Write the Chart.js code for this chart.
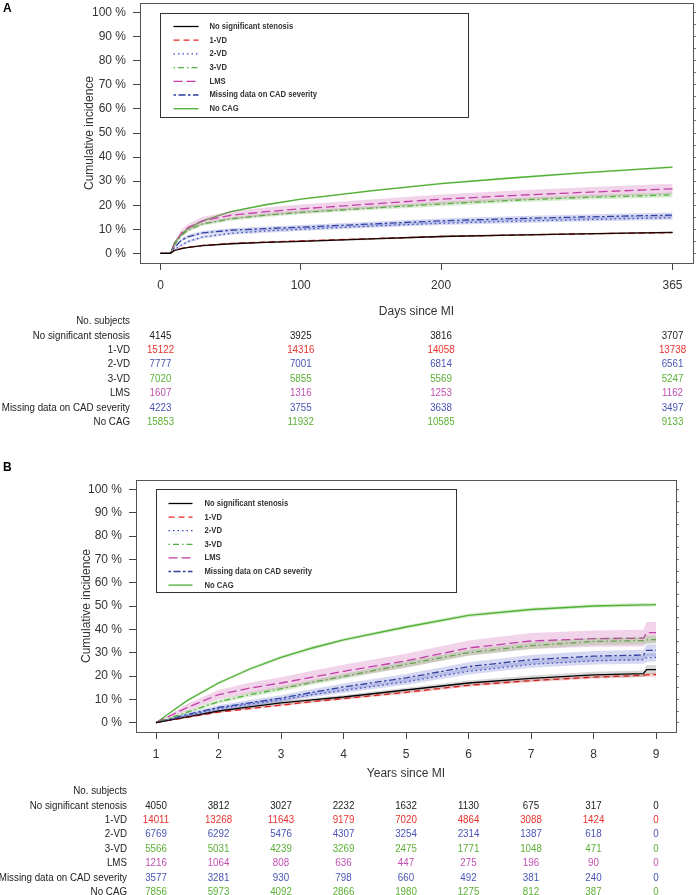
<!DOCTYPE html>
<html>
<head>
<meta charset="utf-8">
<script src="https://cdn.jsdelivr.net/npm/chart.js@4.4.0/dist/chart.umd.min.js"></script>
<style>
  body { margin: 0; background: #fff; }
  canvas { display: block; }
</style>
</head>
<body>
<canvas id="chartA" width="696" height="440"></canvas>
<canvas id="chartB" width="696" height="455"></canvas>
<script>
// --- data ---
const groupNames = ['No significant stenosis', '1-VD', '2-VD', '3-VD', 'LMS',
                    'Missing data on CAD severity', 'No CAG'];

// panel A: days since MI
const daysA = [0, 7, 10, 15, 20, 30, 50, 75, 100, 150, 200, 250, 300, 365];
const noSigA = [0, 0, 1.2, 2.0, 2.5, 3.2, 4.0, 4.6, 5.0, 6.0, 7.0, 7.6, 8.1, 8.7];
const vd1A   = [0, 0, 1.3, 2.1, 2.6, 3.3, 4.1, 4.7, 5.2, 6.1, 7.0, 7.6, 8.1, 8.6];
const vd2A   = [0, 0, 1.5, 3.5, 5.0, 6.8, 8.3, 9.3, 10.0, 11.3, 12.5, 13.3, 14.0, 14.8];
const vd3A   = [0, 0, 3.5, 7.5, 9.8, 12.2, 14.3, 15.9, 17.0, 18.8, 20.5, 22.0, 23.2, 24.3];
const lmsA   = [0, 0, 4.0, 8.5, 10.8, 13.5, 15.8, 17.3, 18.5, 20.5, 22.5, 24.0, 25.3, 26.8];
const missA  = [0, 0, 2.5, 5.5, 7.0, 8.5, 9.6, 10.3, 10.9, 12.2, 13.5, 14.4, 15.1, 15.9];
const noCagA = [0, 0, 4.5, 8.0, 10.5, 13.5, 17.3, 20.2, 22.5, 26.0, 29.0, 31.3, 33.4, 35.8];
// half widths of the confidence bands
const ciNoSigA = [0, 0, 0.2, 0.3, 0.3, 0.3, 0.3, 0.3, 0.4, 0.4, 0.4, 0.4, 0.4, 0.4];
const ciVd1A   = [0, 0, 0.2, 0.2, 0.2, 0.2, 0.2, 0.2, 0.2, 0.2, 0.2, 0.2, 0.2, 0.2];
const ciVd2A   = [0, 0, 0.3, 0.5, 0.6, 0.6, 0.6, 0.7, 0.7, 0.7, 0.7, 0.8, 0.8, 0.8];
const ciVd3A   = [0, 0, 0.4, 0.6, 0.7, 0.7, 0.7, 0.8, 0.8, 0.8, 0.9, 0.9, 0.9, 1.0];
const ciLmsA   = [0, 0, 1.0, 1.4, 1.5, 1.6, 1.7, 1.8, 1.8, 1.9, 2.0, 2.0, 2.1, 2.1];
const ciMissA  = [0, 0, 0.4, 0.6, 0.7, 0.8, 0.8, 0.9, 0.9, 0.9, 1.0, 1.0, 1.0, 1.1];
const ciNoCagA = [0, 0, 0.2, 0.3, 0.3, 0.3, 0.3, 0.3, 0.3, 0.4, 0.4, 0.4, 0.4, 0.4];

const tickDaysA = [0, 100, 200, 365];
const riskA_noSig = [4145, 3925, 3816, 3707];
const riskA_vd1   = [15122, 14316, 14058, 13738];
const riskA_vd2   = [7777, 7001, 6814, 6561];
const riskA_vd3   = [7020, 5855, 5569, 5247];
const riskA_lms   = [1607, 1316, 1253, 1162];
const riskA_miss  = [4223, 3755, 3638, 3497];
const riskA_noCag = [15853, 11932, 10585, 9133];

// panel B: years since MI
const yearsB = [1, 1.5, 2, 2.5, 3, 3.5, 4, 5, 6, 7, 8, 8.8, 8.85, 9];
const noSigB = [0, 2.5, 5.0, 6.8, 8.5, 9.8, 11.0, 14.0, 17.0, 19.0, 20.5, 21.0, 22.7, 22.7];
const vd1B   = [0, 2.3, 4.5, 6.0, 7.5, 9.0, 10.3, 13.0, 16.0, 18.0, 19.5, 20.3, 20.5, 20.6];
const vd2B   = [0, 3.0, 6.0, 8.0, 9.8, 12.0, 13.8, 17.5, 22.0, 25.0, 26.5, 27.0, 27.8, 28.0];
const vd3B   = [0, 4.5, 9.0, 12.0, 14.5, 17.3, 19.8, 25.0, 30.0, 33.0, 34.8, 35.2, 35.5, 35.6];
const lmsB   = [0, 6.5, 12.0, 14.8, 17.0, 19.5, 22.0, 26.5, 32.0, 35.0, 36.0, 36.2, 38.6, 38.6];
const missB  = [0, 3.5, 6.5, 8.5, 10.5, 13.0, 15.3, 19.2, 24.0, 27.0, 28.5, 29.0, 31.0, 31.0];
const noCagB = [0, 9.5, 17.0, 23.0, 28.0, 32.0, 35.5, 41.0, 46.0, 48.5, 50.0, 50.5, 50.5, 50.6];
const ciNoSigB = [0, 0.4, 0.6, 0.7, 0.8, 0.8, 0.9, 1.0, 1.1, 1.2, 1.3, 1.4, 2.0, 2.0];
const ciVd1B   = [0, 0.3, 0.4, 0.4, 0.5, 0.5, 0.5, 0.6, 0.6, 0.7, 0.7, 0.7, 0.8, 0.8];
const ciVd2B   = [0, 0.6, 0.8, 0.9, 1.0, 1.0, 1.1, 1.2, 1.4, 1.5, 1.6, 1.7, 1.8, 1.8];
const ciVd3B   = [0, 0.6, 0.8, 0.9, 1.0, 1.0, 1.1, 1.2, 1.3, 1.4, 1.5, 1.6, 1.7, 1.7];
const ciLmsB   = [0, 1.5, 2.0, 2.3, 2.5, 2.7, 2.8, 3.0, 3.2, 3.4, 3.5, 3.6, 4.5, 4.5];
const ciMissB  = [0, 0.7, 1.0, 1.2, 1.3, 1.4, 1.5, 1.7, 1.9, 2.0, 2.2, 2.3, 2.6, 2.6];
const ciNoCagB = [0, 0.5, 0.6, 0.6, 0.7, 0.7, 0.7, 0.7, 0.8, 0.8, 0.8, 0.8, 0.8, 0.8];

const tickYearsB = [1, 2, 3, 4, 5, 6, 7, 8, 9];
const riskB_noSig = [4050, 3812, 3027, 2232, 1632, 1130, 675, 317, 0];
const riskB_vd1   = [14011, 13268, 11643, 9179, 7020, 4864, 3088, 1424, 0];
const riskB_vd2   = [6769, 6292, 5476, 4307, 3254, 2314, 1387, 618, 0];
const riskB_vd3   = [5566, 5031, 4239, 3269, 2475, 1771, 1048, 471, 0];
const riskB_lms   = [1216, 1064, 808, 636, 447, 275, 196, 90, 0];
const riskB_miss  = [3577, 3281, 930, 798, 660, 492, 381, 240, 0];
const riskB_noCag = [7856, 5973, 4092, 2866, 1980, 1275, 812, 387, 0];

const yTicks = [0, 10, 20, 30, 40, 50, 60, 70, 80, 90, 100];
const rightTicks = [0, 5, 10, 15, 20, 25, 30, 35, 40, 45, 50, 55, 60, 65, 70, 75, 80, 85, 90, 95, 100];

// --- styles per group ---
const styles = [
  { color: '#000000', band: 'rgba(0,0,0,0.15)',      dash: [],              text: '#222222' },
  { color: '#e8231f', band: 'rgba(232,40,35,0.22)',  dash: [6, 4],          text: '#e8322e' },
  { color: '#3b4cc0', band: 'rgba(70,80,190,0.22)',  dash: [1.5, 3],        text: '#4a54b4' },
  { color: '#4db33d', band: 'rgba(90,180,60,0.25)',  dash: [1.5, 3, 6, 3],  text: '#5cb035' },
  { color: '#c13ba6', band: 'rgba(200,80,170,0.25)', dash: [9, 4],          text: '#c150b0' },
  { color: '#2b3d99', band: 'rgba(70,80,190,0.22)',  dash: [2.5, 2.5, 7, 2.5], text: '#4a54b4' },
  { color: '#4caf32', band: 'rgba(90,180,60,0.25)',  dash: [],              text: '#5cb035' }
];

const FONT = '"Liberation Sans", Arial, sans-serif';
Chart.defaults.font.family = FONT;
Chart.defaults.color = '#333';

function buildDatasets(xs, seriesList, ciList) {
  const bands = [];
  const lines = [];
  seriesList.forEach((vals, k) => {
    const st = styles[k];
    const ci = ciList[k];
    bands.push({
      data: xs.map((x, i) => ({ x: x, y: Math.max(0, vals[i] - ci[i]) })),
      borderColor: 'rgba(0,0,0,0)', borderWidth: 0, pointRadius: 0, fill: false
    });
    bands.push({
      data: xs.map((x, i) => ({ x: x, y: vals[i] + ci[i] })),
      borderColor: 'rgba(0,0,0,0)', borderWidth: 0, pointRadius: 0,
      fill: '-1', backgroundColor: st.band
    });
    lines.push({
      label: groupNames[k],
      data: xs.map((x, i) => ({ x: x, y: vals[i] })),
      borderColor: st.color, borderDash: st.dash, borderWidth: 1.3,
      pointRadius: 0, fill: false, tension: 0
    });
  });
  return bands.concat(lines);
}

// narrow text: the original uses a condensed face, squeeze Liberation Sans a bit
function narrowText(ctx, text, x, y, align, sx) {
  ctx.save();
  ctx.translate(x, y);
  ctx.scale(sx, 1);
  ctx.textAlign = align;
  ctx.fillText(text, 0, 0);
  ctx.restore();
}

// box, legend, panel letter, x title and the numbers-at-risk table
function makeDecor(cfg) {
  return {
    id: 'decor',
    afterDraw(chart) {
      const ctx = chart.ctx;
      const a = chart.chartArea;
      const xs = chart.scales.x;
      ctx.save();

      ctx.strokeStyle = '#555';
      ctx.lineWidth = 1;
      ctx.setLineDash([]);
      ctx.strokeRect(Math.round(a.left) + 0.5, Math.round(a.top) + 0.5,
                     Math.round(a.right - a.left), Math.round(a.bottom - a.top));

      // legend
      const lg = cfg.legend;
      const lx = Math.round(a.left + lg.dx) + 0.5;
      const ly = Math.round(a.top + lg.dy) + 0.5;
      ctx.fillStyle = '#fff';
      ctx.fillRect(lx, ly, lg.w, lg.h);
      ctx.strokeStyle = '#333';
      ctx.strokeRect(lx, ly, lg.w, lg.h);
      ctx.font = 'bold 9px ' + FONT;
      ctx.textBaseline = 'middle';
      groupNames.forEach((name, k) => {
        const y = ly + lg.first + k * lg.gap;
        ctx.strokeStyle = styles[k].color;
        ctx.lineWidth = 1.3;
        ctx.setLineDash(styles[k].dash);
        ctx.beginPath();
        ctx.moveTo(lx + lg.sx0, y);
        ctx.lineTo(lx + lg.sx1, y);
        ctx.stroke();
        ctx.fillStyle = '#333';
        narrowText(ctx, name, lx + lg.tx, y, 'left', 0.85);
      });
      ctx.setLineDash([]);

      // panel letter
      ctx.font = 'bold 12px ' + FONT;
      ctx.fillStyle = '#000';
      ctx.textAlign = 'left';
      ctx.fillText(cfg.letter, 3, cfg.letterY);

      // x axis title
      ctx.font = '12px ' + FONT;
      ctx.fillStyle = '#333';
      ctx.textAlign = 'center';
      ctx.fillText(cfg.xTitle, (a.left + a.right) / 2, cfg.xTitleY);

      // numbers at risk
      ctx.font = '11.5px ' + FONT;
      ctx.fillStyle = '#222';
      narrowText(ctx, 'No. subjects', cfg.labelRight, cfg.tableTop, 'right', 0.85);
      groupNames.forEach((name, k) => {
        const y = cfg.tableTop + (k + 1) * cfg.rowGap;
        ctx.fillStyle = '#222';
        narrowText(ctx, name, cfg.labelRight, y, 'right', 0.85);
        ctx.fillStyle = styles[k].text;
        cfg.risk[k].forEach((n, j) => {
          narrowText(ctx, String(n), xs.getPixelForValue(cfg.ticks[j]), y, 'center', 0.85);
        });
      });
      ctx.restore();
    }
  };
}

function fixed(w, h) {
  return function (s) {
    if (w !== null) s.width = w;
    if (h !== null) s.height = h;
    s.paddingTop = 0; s.paddingBottom = 0; s.paddingLeft = 0; s.paddingRight = 0;
  };
}

function makeChart(id, p) {
  return new Chart(document.getElementById(id), {
    type: 'line',
    data: { datasets: buildDatasets(p.xs, p.series, p.ci) },
    options: {
      responsive: false,
      animation: false,
      events: [],
      layout: { padding: p.padding },
      plugins: { legend: { display: false }, tooltip: { enabled: false } },
      scales: {
        x: {
          type: 'linear', min: p.xMin, max: p.xMax,
          afterBuildTicks: s => { s.ticks = p.ticks.map(v => ({ value: v })); },
          afterFit: fixed(null, p.xHeight),
          border: { display: false },
          grid: { drawOnChartArea: false, drawTicks: true, tickLength: 7, color: '#444' },
          ticks: { font: { size: 12 }, color: '#333', padding: 8, maxRotation: 0, autoSkip: false }
        },
        y: {
          type: 'linear', position: 'left', min: -4, max: 104,
          afterBuildTicks: s => { s.ticks = yTicks.map(v => ({ value: v })); },
          afterFit: fixed(p.yWidth, null),
          border: { display: false },
          grid: { drawOnChartArea: false, drawTicks: true, tickLength: 7, color: '#444' },
          ticks: { font: { size: 12 }, color: '#333', padding: 7, callback: v => v + ' %' },
          title: { display: true, text: 'Cumulative incidence', font: { size: 12 }, color: '#333', padding: 0 }
        },
        y2: {
          type: 'linear', position: 'right', min: -4, max: 104,
          afterBuildTicks: s => { s.ticks = rightTicks.map(v => ({ value: v })); },
          afterFit: fixed(3, null),
          border: { display: false },
          grid: { drawOnChartArea: false, drawTicks: true, tickLength: 3, color: '#777' },
          ticks: { display: false }
        }
      }
    },
    plugins: [makeDecor(p.decor)]
  });
}

makeChart('chartA', {
  xs: daysA,
  series: [noSigA, vd1A, vd2A, vd3A, lmsA, missA, noCagA],
  ci: [ciNoSigA, ciVd1A, ciVd2A, ciVd3A, ciLmsA, ciMissA, ciNoCagA],
  ticks: tickDaysA, xMin: -14.6, xMax: 379.6,
  padding: { left: 82, top: 3, right: 0, bottom: 0 },
  xHeight: 177, yWidth: 58,
  decor: {
    letter: 'A', letterY: 9, xTitle: 'Days since MI', xTitleY: 312,
    legend: { dx: 20, dy: 10, w: 308, h: 104, first: 13, gap: 13.7, sx0: 13, sx1: 38, tx: 49 },
    tableTop: 321, rowGap: 14.4, labelRight: 130, ticks: tickDaysA,
    risk: [riskA_noSig, riskA_vd1, riskA_vd2, riskA_vd3, riskA_lms, riskA_miss, riskA_noCag]
  }
});

makeChart('chartB', {
  xs: yearsB,
  series: [noSigB, vd1B, vd2B, vd3B, lmsB, missB, noCagB],
  ci: [ciNoSigB, ciVd1B, ciVd2B, ciVd3B, ciLmsB, ciMissB, ciNoCagB],
  ticks: tickYearsB, xMin: 0.68, xMax: 9.32,
  padding: { left: 79, top: 40, right: 17, bottom: 0 },
  xHeight: 163, yWidth: 57,
  decor: {
    letter: 'B', letterY: 28, xTitle: 'Years since MI', xTitleY: 334,
    legend: { dx: 20, dy: 9, w: 300, h: 103, first: 14, gap: 13.6, sx0: 12, sx1: 36, tx: 48 },
    tableTop: 351, rowGap: 14.4, labelRight: 127, ticks: tickYearsB,
    risk: [riskB_noSig, riskB_vd1, riskB_vd2, riskB_vd3, riskB_lms, riskB_miss, riskB_noCag]
  }
});
</script>
</body>
</html>
